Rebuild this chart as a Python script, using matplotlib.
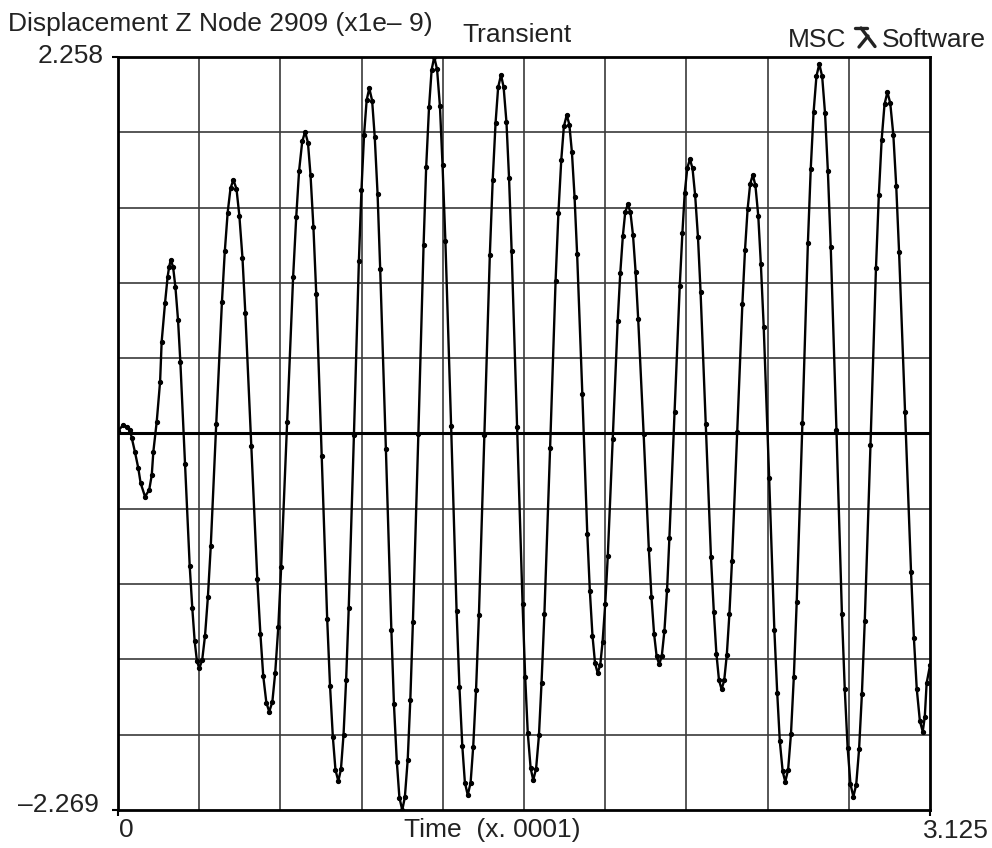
import matplotlib
matplotlib.use("Agg")
from matplotlib import pyplot as plt
from matplotlib.lines import Line2D

# Displacement Z of node 2909
# time in units of 1e-4 s, displacement in units of 1e-9
time = [
    0.000, 0.020, 0.035, 0.046, 0.053, 0.065, 0.078, 0.087, 0.104,
    0.120, 0.130, 0.136, 0.149, 0.162, 0.168, 0.181, 0.191, 0.197, 0.203,
    0.212, 0.221, 0.231, 0.240, 0.258, 0.276, 0.286, 0.295, 0.304, 0.313,
    0.324, 0.335, 0.346, 0.357, 0.378, 0.400, 0.411, 0.422, 0.433, 0.444,
    0.456, 0.467, 0.479, 0.490, 0.513, 0.536, 0.548, 0.559, 0.571, 0.582,
    0.594, 0.605, 0.617, 0.628, 0.651, 0.674, 0.686, 0.697, 0.709, 0.720,
    0.731, 0.741, 0.752, 0.763, 0.784, 0.805, 0.816, 0.827, 0.837, 0.848,
    0.858, 0.868, 0.878, 0.888, 0.908, 0.927, 0.937, 0.947, 0.957, 0.967,
    0.978, 0.988, 0.999, 1.009, 1.031, 1.052, 1.062, 1.073, 1.083, 1.094,
    1.104, 1.115, 1.125, 1.135, 1.156, 1.176, 1.186, 1.197, 1.207, 1.217,
    1.228, 1.239, 1.249, 1.260, 1.282, 1.303, 1.314, 1.325, 1.335, 1.346,
    1.357, 1.367, 1.378, 1.389, 1.410, 1.431, 1.442, 1.453, 1.463, 1.474,
    1.484, 1.495, 1.505, 1.515, 1.536, 1.557, 1.567, 1.577, 1.588, 1.598,
    1.609, 1.620, 1.630, 1.641, 1.663, 1.684, 1.695, 1.706, 1.716, 1.727,
    1.737, 1.747, 1.757, 1.767, 1.787, 1.806, 1.816, 1.826, 1.836, 1.846,
    1.856, 1.865, 1.875, 1.885, 1.904, 1.923, 1.933, 1.943, 1.952, 1.962,
    1.972, 1.982, 1.992, 2.002, 2.023, 2.043, 2.053, 2.063, 2.073, 2.083,
    2.093, 2.103, 2.113, 2.122, 2.142, 2.162, 2.172, 2.181, 2.191, 2.201,
    2.211, 2.221, 2.232, 2.242, 2.262, 2.282, 2.293, 2.303, 2.313, 2.323,
    2.333, 2.343, 2.353, 2.363, 2.383, 2.403, 2.413, 2.423, 2.433, 2.443,
    2.453, 2.464, 2.474, 2.485, 2.506, 2.526, 2.537, 2.547, 2.558, 2.568,
    2.579, 2.590, 2.601, 2.612, 2.634, 2.655, 2.666, 2.677, 2.688, 2.699,
    2.710, 2.721, 2.732, 2.743, 2.765, 2.786, 2.797, 2.808, 2.819, 2.830,
    2.841, 2.852, 2.863, 2.874, 2.896, 2.917, 2.928, 2.939, 2.950, 2.961,
    2.972, 2.984, 2.995, 3.006, 3.029, 3.052, 3.063, 3.074, 3.086, 3.097,
    3.105, 3.112, 3.125,
]
disp = [
    0.010, 0.046, 0.034, 0.016, -0.033, -0.115, -0.213, -0.303, -0.385,
    -0.345, -0.255, -0.115, 0.065, 0.306, 0.546, 0.779, 0.937, 0.998, 1.038,
    0.996, 0.874, 0.678, 0.424, -0.190, -0.803, -1.057, -1.253, -1.376, -1.417,
    -1.367, -1.220, -0.987, -0.683, 0.051, 0.785, 1.089, 1.322, 1.469, 1.519,
    1.465, 1.305, 1.051, 0.720, -0.080, -0.879, -1.210, -1.464, -1.624, -1.678,
    -1.619, -1.444, -1.167, -0.806, 0.066, 0.937, 1.298, 1.575, 1.750, 1.809,
    1.743, 1.547, 1.237, 0.833, -0.143, -1.119, -1.523, -1.833, -2.029, -2.095,
    -2.024, -1.816, -1.485, -1.054, -0.013, 1.029, 1.460, 1.791, 1.999, 2.070,
    1.996, 1.779, 1.434, 0.985, -0.100, -1.184, -1.634, -1.978, -2.195, -2.269,
    -2.192, -1.966, -1.606, -1.137, -0.006, 1.126, 1.595, 1.955, 2.181, 2.258,
    2.183, 1.961, 1.608, 1.149, 0.040, -1.070, -1.529, -1.882, -2.104, -2.179,
    -2.105, -1.889, -1.545, -1.097, -0.015, 1.068, 1.516, 1.860, 2.076, 2.150,
    2.078, 1.866, 1.529, 1.090, 0.031, -1.029, -1.468, -1.805, -2.017, -2.089,
    -2.021, -1.821, -1.503, -1.090, -0.090, 0.910, 1.323, 1.641, 1.841, 1.909,
    1.852, 1.684, 1.418, 1.071, 0.232, -0.607, -0.954, -1.220, -1.388, -1.445,
    -1.397, -1.256, -1.033, -0.741, -0.037, 0.668, 0.959, 1.183, 1.324, 1.372,
    1.325, 1.187, 0.967, 0.681, -0.011, -0.702, -0.988, -1.208, -1.346, -1.393,
    -1.341, -1.190, -0.948, -0.634, 0.125, 0.884, 1.198, 1.440, 1.591, 1.643,
    1.589, 1.430, 1.176, 0.847, 0.050, -0.747, -1.076, -1.330, -1.489, -1.543,
    -1.490, -1.336, -1.090, -0.770, 0.003, 0.776, 1.096, 1.342, 1.496, 1.549,
    1.487, 1.305, 1.015, 0.637, -0.275, -1.187, -1.565, -1.855, -2.037, -2.099,
    -2.026, -1.810, -1.467, -1.020, 0.059, 1.137, 1.584, 1.927, 2.143, 2.216,
    2.141, 1.921, 1.571, 1.115, 0.014, -1.088, -1.544, -1.894, -2.114, -2.189,
    -2.117, -1.905, -1.569, -1.130, -0.072, 0.987, 1.426, 1.762, 1.974, 2.046,
    1.981, 1.788, 1.483, 1.085, 0.124, -0.837, -1.235, -1.540, -1.733, -1.798,
    -1.708, -1.507, -1.400,
]

x_min, x_max = 0.0, 3.125
y_min, y_max = -2.269, 2.258
n_div = 10

W, H = 992, 848
plt.rcParams['font.family'] = ['Liberation Sans', 'DejaVu Sans']
txt_color = '#222222'

fig = plt.figure(figsize=(W / 100, H / 100), dpi=100)
ax = fig.add_axes([118 / W, 1 - 810 / H, 812 / W, 753 / H])
ax.set_xlim(x_min, x_max)
ax.set_ylim(y_min, y_max)

# grid: 10 x 10 divisions
for i in range(1, n_div):
    ax.axvline(x_min + i * (x_max - x_min) / n_div, color='#3a3a3a', lw=1.2, zorder=1)
    ax.axhline(y_min + i * (y_max - y_min) / n_div, color='#3a3a3a', lw=1.2, zorder=1)
ax.axhline(0, color='black', lw=2.2, zorder=2)

ax.plot(time, disp, color='black', lw=1.7, marker='o', ms=2.8, zorder=3)

for s in ax.spines.values():
    s.set_linewidth(2)
ax.set_xticks([x_min, x_max])
ax.set_yticks([y_min, y_max])
ax.tick_params(length=4, width=1.5, direction='out', labelbottom=False, labelleft=False)


def px(x, y):
    return x / W, 1 - y / H


fs = 19
opts = dict(fontsize=fs, va='baseline', color=txt_color)
fig.text(*px(8, 31), 'Displacement Z Node 2909 (x1e\u2013 9)', ha='left', **opts)
fig.text(*px(462, 42), 'Transient', ha='left', **opts)
fig.text(*px(788, 47), 'MSC', ha='left', **opts)
fig.text(*px(882, 47), 'Software', ha='left', **opts)
fig.text(*px(104, 63), '2.258', ha='right', **opts)
fig.text(*px(99, 812), '\u20132.269', ha='right', **opts)
fig.text(*px(119, 837), '0', ha='left', **opts)
fig.text(*px(404, 837), 'Time  (x. 0001)', ha='left', **opts)
fig.text(*px(923, 838), '3.125', ha='left', **opts)

# MSC logo mark
for (x1, y1), (x2, y2) in [((855, 27.5), (867, 27.5)),
                           ((861, 28), (875, 46.5)),
                           ((868, 36), (859, 47))]:
    a, b = px(x1, y1)
    c, d = px(x2, y2)
    fig.add_artist(Line2D([a, c], [b, d], color=txt_color, lw=2.4, solid_capstyle='round'))

fig.savefig('out.png', dpi=100)
